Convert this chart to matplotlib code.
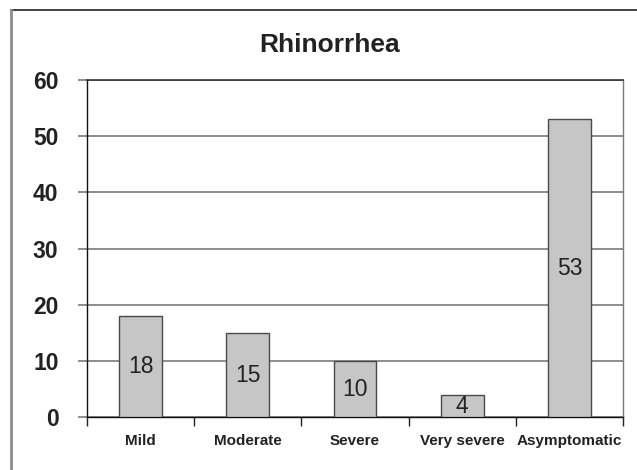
import matplotlib
matplotlib.use("Agg")
import matplotlib.pyplot as plt
from matplotlib.lines import Line2D

categories = ["Mild", "Moderate", "Severe", "Very severe", "Asymptomatic"]
values = [18, 15, 10, 4, 53]
y_ticks = [0, 10, 20, 30, 40, 50, 60]
title = "Rhinorrhea"

plt.rcParams['font.family'] = ['Liberation Sans', 'DejaVu Sans']

fig = plt.figure(figsize=(6.37, 4.70), dpi=100)
ax = fig.add_axes([87 / 637, 1 - 417.3 / 470, (623 - 87) / 637, (417.3 - 80) / 470])

x = list(range(len(categories)))
bars = ax.bar(x, values, width=0.4, color="#c6c6c6", edgecolor="#4a4a4a",
              linewidth=1.0, zorder=3)

# value labels in the middle of each bar
for xi, v in zip(x, values):
    ax.text(xi, v / 2, str(v), ha="center", va="center", fontsize=16.5,
            color="#222222", zorder=4)

ax.set_xlim(-0.5, len(categories) - 0.5)
ax.set_ylim(0, 60)
ax.set_yticks(y_ticks)
ax.set_yticklabels([str(t) for t in y_ticks], fontsize=16.5, fontweight="bold",
                   color="#222222")
ax.yaxis.grid(True, color="#7a7a7a", linewidth=1.2, zorder=0)
ax.tick_params(axis="y", length=6.5, width=1.2, color="#7a7a7a", pad=14)

# category ticks sit at the boundaries, labels in the centres
ax.set_xticks([i - 0.5 for i in range(len(categories) + 1)])
ax.set_xticklabels([])
ax.set_xticks(x, minor=True)
ax.set_xticklabels(categories, minor=True, fontsize=11, fontweight="bold",
                   color="#222222")
ax.tick_params(axis="x", which="major", length=6.5, width=1.0, color="#222222")
ax.tick_params(axis="x", which="minor", length=0, pad=12)

for side in ["left", "bottom"]:
    ax.spines[side].set_color("#111111")
    ax.spines[side].set_linewidth(1.0)
ax.spines["top"].set_color("#333333")
ax.spines["top"].set_linewidth(1.2)
ax.spines["right"].set_color("#7a7a7a")
ax.spines["right"].set_linewidth(1.0)

fig.text((259 + 400) / 2 / 637, 1 - 45 / 470, title, ha="center", va="center",
         fontsize=19, fontweight="bold", color="#222222")

# outer frame (only top and left edges visible)
fig.add_artist(Line2D([11 / 637, 1], [1 - 10 / 470, 1 - 10 / 470],
                      transform=fig.transFigure, color="#222222", linewidth=1.2))
fig.add_artist(Line2D([11 / 637, 11 / 637], [0, 1 - 10 / 470],
                      transform=fig.transFigure, color="#8c8c8c", linewidth=2))

fig.savefig("out.png", dpi=100)
